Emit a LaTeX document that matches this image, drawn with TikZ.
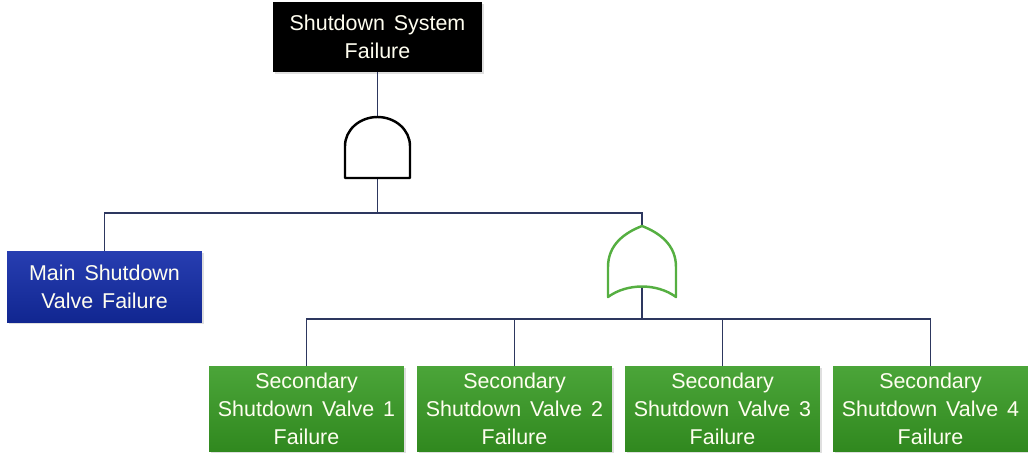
\documentclass[tikz,border=0pt]{standalone}
\usepackage{fontspec}
\setmainfont[WordSpace=1.5]{Liberation Sans}
\usetikzlibrary{positioning, shadows}
\definecolor{linea}{RGB}{45,55,95}
\definecolor{azul}{RGB}{20,45,170}
\definecolor{verde}{RGB}{55,155,35}
\definecolor{verdeor}{RGB}{85,175,65}
\tikzset{
    x=0.02cm, y=0.02cm, % un pixel de la figura
    evento/.style={text=white!94!yellow, align=center, inner sep=0pt,
        font=\fontsize{12.2}{16}\selectfont,
        drop shadow={opacity=0.25, shadow xshift=1pt, shadow yshift=-1pt}}, % caja base
    tope/.style={evento, fill=black, minimum width=4.18cm, minimum height=1.4cm},
    principal/.style={evento, top color=azul!92!white, bottom color=azul!85!black,
        minimum width=3.9cm, minimum height=1.42cm},
    secundaria/.style={evento, top color=verde!90!white, bottom color=verde!88!black,
        minimum width=3.9cm, minimum height=1.7cm},
    conector/.style={draw=linea, line width=0.8pt},
    compuerta/.style={line width=1.4pt, line join=round, fill=white}
}
\begin{document}
\begin{tikzpicture}
		\useasboundingbox (0,0) rectangle (1028,-454);
		% Eventos
		\node[tope](SSF) at (377.5,-37) {Shutdown System\\Failure};
		\node[principal](MSV) at (104.5,-286.5) {Main Shutdown\\Valve Failure};
		\foreach \i in {1,...,4}
			\node[secundaria](SV\i) at (306.5+208*\i-208,-408.5) {Secondary\\Shutdown Valve \i\\Failure};
		
		% Compuertas
		\coordinate (ANDt) at (377.5,-117);
		\coordinate (ANDb) at (377.5,-178);
		\coordinate (ORt) at (642,-226);
		\coordinate (ORb) at (642,-286.5);
		\coordinate (B1) at (377.5,-213);
		\coordinate (B2) at (642,-319);
		
		% Conexiones
		\draw[conector] (SSF) -- (ANDt);
		\draw[conector] (ANDb) -- (B1);
		\draw[conector] (MSV) |- (B1) -| (ORt);
		\draw[conector] (ORb) -- (B2);
		\foreach \i in {1,...,4}
			\draw[conector] (SV\i) |- (B2);
		
		% AND
		\begin{scope}[shift={(ANDb)}]
			\draw[compuerta, draw=black] (-32.5,0) -- (-32.5,32)
				.. controls (-32.5,48) and (-18,61) .. (0,61)
				.. controls (18,61) and (32.5,48) .. (32.5,32) -- (32.5,0) -- cycle;
		\end{scope}
		% OR
		\begin{scope}[shift={(642,-297)}]
			\draw[compuerta, draw=verdeor] (-34,0) -- (-34,30)
				.. controls (-34,52) and (-18,64) .. (0,71)
				.. controls (18,64) and (34,52) .. (34,30) -- (34,0)
				.. controls (15,14) and (-15,14) .. cycle;
		\end{scope}
	\end{tikzpicture}
\end{document}
